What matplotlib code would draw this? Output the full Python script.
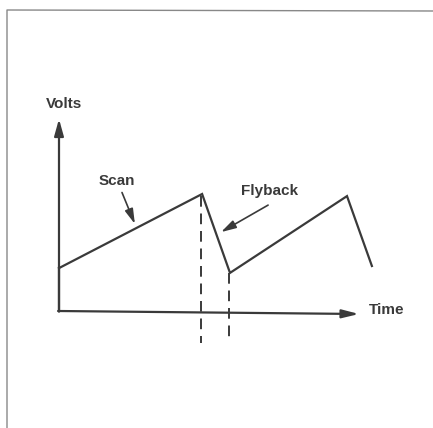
import matplotlib
matplotlib.use("Agg")
import matplotlib.pyplot as plt

# waveform corner points (time, volts)
wave_t = [0.0, 4.77, 5.70, 9.60, 10.43]
wave_v = [1.43, 3.90, 1.27, 3.83, 1.50]

# dashed markers at start/end of the flyback
mark_t = [4.73, 5.67]
mark_top = [3.85, 1.27]
mark_bottom = -1.07

axis_labels = ["Volts", "Time"]
notes = ["Scan", "Flyback"]

ink = "#3a3a3a"
fig = plt.figure(figsize=(4.33, 4.28), dpi=100)
ax = fig.add_axes([0, 0, 1, 1])
ax.set_xlim(-59 / 30, (433 - 59) / 30)
ax.set_ylim(-117 / 30, 311 / 30)
ax.axis("off")

# frame of the scanned page (left and top edges)
ax.plot([7 / 433, 7 / 433, 1.0], [0.0, 1 - 10 / 428, 1 - 11 / 428],
        transform=ax.transAxes, color="#888888", lw=1.0, clip_on=False)

# axes with arrowheads
ax.annotate("", xy=(0, 6.4), xytext=(0, -0.02),
            arrowprops=dict(arrowstyle="-|>,head_length=1.0,head_width=0.28",
                            color=ink, lw=1.6, shrinkA=0, shrinkB=0))
ax.annotate("", xy=(10.0, -0.1), xytext=(-0.03, 0),
            arrowprops=dict(arrowstyle="-|>,head_length=1.0,head_width=0.25",
                            color=ink, lw=1.6, shrinkA=0, shrinkB=0))
ax.plot([0, 0], [0, wave_v[0]], color=ink, lw=1.6)

ax.plot(wave_t, wave_v, color=ink, lw=1.6, solid_joinstyle="miter")

for t, top in zip(mark_t, mark_top):
    ax.plot([t, t], [top, mark_bottom], color=ink, lw=1.4,
            linestyle=(0, (5.5, 3.5)))

font = dict(fontfamily="Liberation Sans", fontweight="bold", color=ink,
            fontsize=11)
ax.text(0.17, 6.9, axis_labels[0], ha="center", va="center", **font)
ax.text(10.93, 0.05, axis_labels[1], ha="center", va="center", **font)
ax.text(1.93, 4.33, notes[0], ha="center", va="center", **font)
ax.text(7.03, 4.0, notes[1], ha="center", va="center", **font)

ax.annotate("", xy=(2.53, 2.9), xytext=(2.1, 3.95),
            arrowprops=dict(arrowstyle="-|>,head_length=0.9,head_width=0.25",
                            color=ink, lw=1.2, shrinkA=0, shrinkB=0))
ax.annotate("", xy=(5.4, 2.63), xytext=(6.97, 3.53),
            arrowprops=dict(arrowstyle="-|>,head_length=0.9,head_width=0.25",
                            color=ink, lw=1.2, shrinkA=0, shrinkB=0))

fig.savefig("out.png", dpi=100, facecolor="white")
